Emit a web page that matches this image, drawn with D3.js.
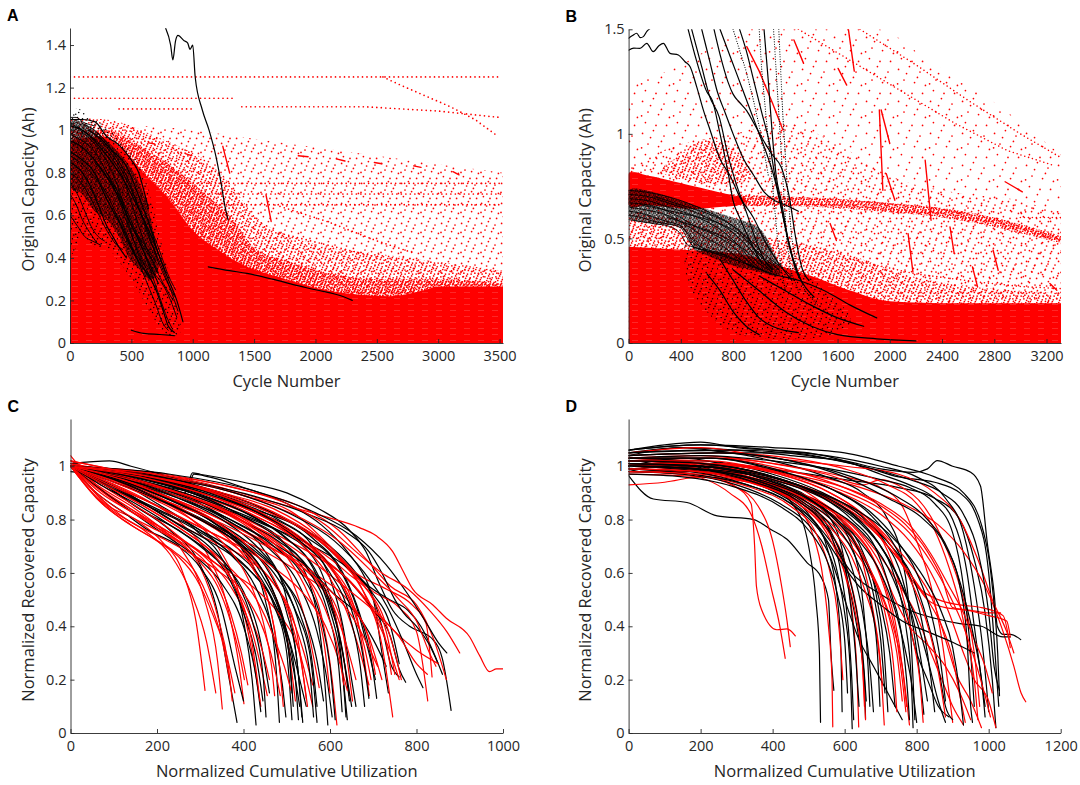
<!DOCTYPE html>
<html>
<head>
<meta charset="utf-8">
<script src="https://cdn.jsdelivr.net/npm/d3@7"></script>
<style>
  body { margin: 0; background: #fff; }
  svg { display: block; font-family: "Open Sans", "Noto Sans", sans-serif; }
</style>
</head>
<body>
<svg id="fig" width="1080" height="785"></svg>
<script>
// ---------- tick values ----------
const aXTicks = [0, 500, 1000, 1500, 2000, 2500, 3000, 3500];
const aYTicks = [0, 0.2, 0.4, 0.6, 0.8, 1, 1.2, 1.4];
const bXTicks = [0, 400, 800, 1200, 1600, 2000, 2400, 2800, 3200];
const bYTicks = [0, 0.5, 1, 1.5];
const cXTicks = [0, 200, 400, 600, 800, 1000];
const dXTicks = [0, 200, 400, 600, 800, 1000, 1200];
const cdYTicks = [0, 0.2, 0.4, 0.6, 0.8, 1];

// ---------- panel A (cycle number, capacity in Ah) ----------
// outlines of the red point cloud
const aSparseTop = [[0,1.0],[600,1.02],[1000,1.0],[1500,0.96],[2000,0.92],[2500,0.88],[3000,0.84],[3528,0.8]];
const aMidTop = [[0,1.06],[300,1.05],[500,1.02],[700,0.97],[900,0.92],[1100,0.86],[1300,0.75],[1500,0.6],[1800,0.5],[2100,0.45],[2500,0.42],[3000,0.38],[3528,0.34]];
const aHeavyTop = [[0,1.0],[300,1.0],[500,0.95],[700,0.88],[900,0.8],[1100,0.7],[1300,0.6],[1500,0.45],[1800,0.38],[2100,0.33],[2500,0.3],[3000,0.3],[3528,0.28]];
const aDenseTop = [[0,0.95],[250,0.97],[450,0.9],[600,0.8],[800,0.68],[1000,0.53],[1200,0.44],[1400,0.37],[1700,0.31],[2000,0.26],[2300,0.23],[2600,0.22],[2900,0.25],[3000,0.265],[3528,0.265]];
const aDotLines = [
  [[0,1.25],[3490,1.25]],
  [[2550,1.25],[2700,1.21],[2900,1.16],[3100,1.11],[3300,1.05],[3490,0.97]],
  [[0,1.15],[1330,1.15]],
  [[400,1.1],[990,1.1]],
  [[1400,1.11],[2000,1.11],[2400,1.11],[2700,1.1],[3000,1.09],[3500,1.06]],
  [[820,0.75],[3520,0.75]],
  [[1050,0.7],[3520,0.7]],
  [[1220,0.65],[3500,0.65]],
  [[1711,0.642],[2100,0.57],[2500,0.48],[2795,0.424]],
  [[1711,0.516],[2100,0.46],[2526,0.4]]
];
const aRedSegs = [
  [[1245,0.924],[1301,0.798]],
  [[1597,0.696],[1639,0.571]],
  [[640,0.94],[690,0.935]],
  [[940,0.89],[990,0.88]],
  [[1860,0.88],[1940,0.875]],
  [[2170,0.865],[2240,0.855]],
  [[2480,0.848],[2540,0.842]],
  [[2800,0.832],[2860,0.825]],
  [[3120,0.805],[3170,0.79]]
];
const aBlackSparse = [[0,1.06],[190,1.05],[326,1.0],[462,0.92],[570,0.83],[650,0.7],[733,0.5],[815,0.3],[880,0.15],[900,0.05],[800,0.035],[700,0.1],[600,0.2],[500,0.3],[400,0.38],[300,0.45],[200,0.45],[100,0.5],[0,0.45]];
const aBlackDense = [[0,1.03],[150,1.02],[300,0.95],[420,0.88],[520,0.8],[600,0.7],[660,0.58],[700,0.45],[720,0.35],[650,0.3],[560,0.35],[480,0.4],[400,0.5],[300,0.58],[200,0.62],[100,0.7],[0,0.75]];
const aBlackLines = [
  [[781,1.477],[820,1.4],[838,1.33],[860,1.42],[880,1.445],[930,1.42],[958,1.41],[978,1.38],[1000,1.4],[1020,1.25],[1077,1.097],[1133,1.0],[1189,0.877],[1231,0.751],[1260,0.65],[1288,0.578]],
  [[0,1.05],[100,1.05],[200,1.04],[300,0.97],[400,0.93],[500,0.86],[560,0.8],[600,0.72],[640,0.63]],
  [[1126,0.358],[1300,0.34],[1442,0.327],[1650,0.3],[1836,0.272],[2000,0.25],[2230,0.217],[2300,0.2]],
  [[500,0.06],[600,0.045],[733,0.04],[850,0.035]],
  [[0,1.02],[100,1.0],[200,0.95],[300,0.88],[400,0.8],[500,0.7],[600,0.58],[700,0.45],[780,0.33]],
  [[0,0.95],[100,0.92],[200,0.86],[300,0.78],[400,0.68],[480,0.58],[560,0.48],[640,0.38],[720,0.28]],
  [[0,0.9],[100,0.86],[200,0.8],[280,0.7],[350,0.62],[420,0.55],[500,0.45],[580,0.36]],
  [[0,0.85],[100,0.8],[180,0.72],[250,0.62],[300,0.55],[350,0.5],[400,0.45],[460,0.4]],
  [[150,1.0],[250,0.96],[350,0.9],[450,0.84],[520,0.75],[580,0.66],[650,0.55],[720,0.42],[800,0.3],[870,0.2],[920,0.1]],
  [[600,0.35],[700,0.25],[760,0.15],[800,0.08],[850,0.05]]
];
const aBlackThin = [
  [[0,1.04],[80,1.0],[160,0.96],[250,0.9],[330,0.82],[400,0.72],[460,0.6],[520,0.48],[580,0.38],[650,0.3]],
  [[0,0.98],[100,0.95],[200,0.9],[280,0.82],[350,0.74],[420,0.64],[480,0.54],[550,0.44],[620,0.35],[700,0.25]],
  [[0,0.8],[80,0.76],[150,0.7],[220,0.62],[280,0.55],[330,0.5],[380,0.46],[430,0.44]],
  [[0,0.75],[60,0.7],[120,0.62],[170,0.55],[230,0.5],[280,0.48]],
  [[0,0.7],[50,0.65],[100,0.58],[160,0.52],[220,0.47]],
  [[50,1.02],[150,0.98],[250,0.93],[350,0.86],[430,0.78],[500,0.66],[560,0.55],[620,0.45],[680,0.37],[760,0.28],[840,0.2]],
  [[100,1.03],[200,1.0],[300,0.94],[380,0.87],[450,0.8],[520,0.7],[580,0.6],[640,0.5],[700,0.42],[760,0.34],[820,0.25],[880,0.15]],
  [[0,0.88],[100,0.84],[200,0.78],[300,0.7],[380,0.6],[450,0.5],[520,0.42],[600,0.35],[680,0.3]],
  [[200,0.85],[300,0.78],[400,0.7],[480,0.6],[540,0.52],[600,0.45],[660,0.4],[720,0.33]],
  [[250,0.95],[350,0.88],[450,0.78],[530,0.68],[600,0.58],[660,0.48],[720,0.38],[780,0.3],[850,0.22]],
  [[300,0.8],[380,0.72],[450,0.62],[500,0.55],[560,0.5],[620,0.45],[700,0.38]],
  [[0,0.6],[60,0.55],[120,0.5],[180,0.48],[250,0.46]],
  [[400,0.6],[470,0.5],[530,0.42],[600,0.38],[680,0.33],[750,0.28],[820,0.2],[870,0.12]],
  [[500,0.45],[580,0.35],[650,0.25],[700,0.18],[750,0.1],[800,0.06]],
  [[550,0.5],[620,0.4],[680,0.3],[740,0.2],[790,0.12],[830,0.07]],
  [[650,0.55],[700,0.48],[750,0.4],[800,0.32],[860,0.25]],
  [[0,1.06],[50,1.06],[100,1.04],[200,1.02]]
];

// ---------- panel B ----------
const bThinTop = [[0,1.25],[300,1.3],[600,1.4],[900,1.5],[1900,1.5],[2300,1.35],[2800,1.15],[3311,0.9]];
const bSparseTop = [[0,0.85],[400,0.95],[800,1.0],[1200,1.05],[1600,0.95],[2000,0.8],[2500,0.72],[3000,0.68],[3311,0.62]];
const bMidTop = [[0,0.62],[500,0.58],[900,0.52],[1300,0.48],[1700,0.42],[2100,0.33],[2500,0.28],[3000,0.25],[3311,0.24]];
const bDenseTop = [[0,0.46],[300,0.45],[600,0.44],[900,0.42],[1100,0.38],[1400,0.32],[1700,0.25],[2000,0.2],[2500,0.19],[3311,0.19]];
const bRedBand = [[0,0.81],[150,0.8],[300,0.78],[500,0.75],[700,0.72],[850,0.7],[900,0.68],[850,0.66],[700,0.65],[500,0.64],[300,0.65],[150,0.66],[0,0.66]];
const bLongBand = [[700,0.71],[1200,0.7],[1600,0.69],[2000,0.67],[2400,0.645],[2800,0.6],[3100,0.55],[3311,0.51],[3311,0.48],[3100,0.51],[2800,0.555],[2400,0.6],[2000,0.625],[1600,0.645],[1200,0.655],[700,0.66]];
const bCloud = [[250,0.82],[400,0.9],[550,0.97],[700,0.96],[850,0.9],[950,0.8],[800,0.76],[500,0.77]];
const bDotLines = [
  [[700,0.69],[1200,0.69],[1600,0.685],[2000,0.665],[2400,0.64],[2800,0.59],[3100,0.54],[3311,0.5]],
  [[900,0.67],[1600,0.66],[2000,0.64],[2400,0.62],[2800,0.58],[3100,0.53],[3311,0.49]],
  [[1772,1.5],[2200,1.33],[2600,1.16],[3000,1.0],[3300,0.89]],
  [[1300,1.5],[1700,1.35],[2100,1.2],[2500,1.05],[2900,0.92],[3250,0.85]],
  [[1700,0.4],[2200,0.33],[2700,0.29],[3000,0.27],[3311,0.26]],
  [[3000,0.6],[3311,0.6]]
];
const bRedSegs = [
  [[1266,1.449],[1340,1.337]],
  [[1683,1.5],[1728,1.3]],
  [[1604,1.313],[1670,1.233]],
  [[1934,1.114],[2000,0.954]],
  [[1920,1.114],[1947,0.73]],
  [[1973,0.81],[2039,0.683]],
  [[2271,0.874],[2316,0.587]],
  [[2140,0.523],[2177,0.34]],
  [[2461,0.555],[2493,0.428]],
  [[2633,0.364],[2672,0.268]],
  [[2791,0.444],[2830,0.348]],
  [[1543,0.571],[1591,0.49]],
  [[3226,0.284],[3279,0.252]],
  [[2883,0.771],[3015,0.723]],
  [[905,1.417],[1000,1.3],[1100,1.15],[1182,1.018]]
];
const bBlackMass = [[0,0.73],[200,0.72],[400,0.68],[600,0.64],[800,0.6],[1000,0.55],[1100,0.45],[1150,0.38],[1150,0.32],[1000,0.34],[800,0.37],[600,0.42],[500,0.45],[400,0.55],[200,0.57],[0,0.6]];
const bBlackSparse = [[450,0.5],[700,0.45],[1000,0.4],[1300,0.35],[1600,0.2],[1700,0.1],[1500,0.03],[1100,0.02],[800,0.05],[600,0.15],[450,0.3]];
const bBlackLines = [
  [[0,1.457],[30,1.47],[62,1.481],[90,1.46],[113,1.465],[140,1.49],[151,1.497],[179,1.51]],
  [[0,1.4],[40,1.41],[87,1.409],[139,1.433],[189,1.393],[230,1.42],[266,1.433],[317,1.385],[381,1.377],[432,1.345],[470,1.322],[521,1.226],[572,1.115],[623,1.02],[700,0.88],[777,0.8],[850,0.7],[955,0.6],[1050,0.48],[1150,0.38],[1250,0.3]],
  [[456,1.5],[520,1.35],[600,1.2],[641,1.16],[700,1.0],[760,0.82],[800,0.68],[850,0.6],[905,0.52],[960,0.45],[1020,0.38]],
  [[483,1.5],[560,1.32],[620,1.18],[694,1.08],[760,0.9],[830,0.75],[905,0.62],[970,0.5],[1036,0.4],[1100,0.35]],
  [[654,1.5],[700,1.38],[760,1.25],[800,1.19],[850,1.15],[905,1.11],[960,1.05],[1050,0.95],[1100,0.9],[1169,0.84],[1230,0.7],[1280,0.5],[1327,0.36],[1380,0.3]],
  [[700,1.5],[760,1.4],[820,1.3],[880,1.2],[940,1.1],[1000,1.0],[1060,0.9],[1120,0.78],[1170,0.64],[1220,0.5],[1270,0.38],[1320,0.3]],
  [[850,1.5],[900,1.4],[960,1.25],[1020,1.1],[1080,0.95],[1120,0.8],[1160,0.68],[1200,0.55],[1240,0.44],[1290,0.35]],
  [[1037,1.5],[1070,1.25],[1100,1.0],[1130,0.8],[1169,0.68],[1220,0.5],[1274,0.36],[1340,0.28],[1420,0.22]],
  [[560,1.5],[620,1.35],[680,1.2],[740,1.1],[800,1.0],[880,0.88],[960,0.8],[1040,0.72],[1120,0.68],[1200,0.66],[1300,0.63]],
  [[900,0.38],[1100,0.33],[1300,0.3],[1500,0.25],[1700,0.18],[1900,0.12]],
  [[800,0.35],[1000,0.25],[1200,0.15],[1400,0.08],[1600,0.04],[1900,0.02],[2200,0.01]],
  [[700,0.4],[800,0.3],[900,0.2],[1000,0.12],[1100,0.08],[1300,0.05]],
  [[1000,0.32],[1200,0.25],[1400,0.18],[1600,0.12],[1800,0.08]],
  [[600,0.33],[700,0.25],[800,0.15],[900,0.08],[1000,0.04]]
];
const bBlackBand = [
  [[0,0.73],[150,0.72],[300,0.7],[450,0.67],[600,0.63],[750,0.58],[900,0.5],[1000,0.42],[1100,0.36]],
  [[0,0.71],[150,0.7],[300,0.67],[450,0.64],[600,0.6],[750,0.55],[900,0.47],[1000,0.4],[1080,0.35]],
  [[0,0.69],[150,0.68],[300,0.65],[450,0.62],[600,0.58],[750,0.52],[880,0.44],[960,0.38],[1050,0.34]],
  [[0,0.67],[150,0.66],[300,0.63],[400,0.6],[500,0.56],[650,0.52],[800,0.46],[900,0.4],[1000,0.35]],
  [[0,0.65],[100,0.64],[250,0.62],[400,0.58],[500,0.54],[600,0.5],[750,0.45],[850,0.4],[950,0.36]],
  [[0,0.63],[100,0.62],[200,0.6],[300,0.58],[400,0.56],[480,0.5],[550,0.46],[700,0.43],[850,0.39]],
  [[0,0.61],[100,0.6],[200,0.58],[300,0.57],[400,0.55],[450,0.5],[500,0.46],[600,0.44],[750,0.42]],
  [[0,0.59],[100,0.58],[200,0.57],[300,0.56],[400,0.52],[450,0.47],[550,0.45],[700,0.42],[900,0.38]],
  [[100,0.66],[250,0.64],[400,0.62],[550,0.6],[700,0.57],[850,0.52],[950,0.46],[1050,0.4],[1150,0.35]],
  [[200,0.7],[400,0.66],[600,0.62],[800,0.56],[950,0.48],[1050,0.42],[1150,0.37],[1250,0.32]],
  [[300,0.6],[450,0.57],[600,0.54],[750,0.5],[900,0.44],[1000,0.38],[1100,0.34]]
];
const bBlackDotted = [
  [[1000,1.5],[1020,1.3],[1050,1.1],[1080,0.9],[1110,0.7],[1140,0.5],[1170,0.35],[1200,0.25]],
  [[1110,1.5],[1130,1.3],[1150,1.1],[1170,0.9],[1190,0.7],[1210,0.5],[1240,0.35],[1300,0.25]],
  [[1150,1.5],[1165,1.3],[1180,1.1],[1200,0.9],[1220,0.7],[1250,0.5],[1290,0.35],[1350,0.25],[1450,0.18]],
  [[800,1.5],[850,1.4],[900,1.3],[960,1.15],[1020,0.98],[1070,0.8]]
];

// ---------- panel C (normalized cumulative utilization vs recovered capacity) ----------
const cRed = [
  [[0,1],[40,.93],[80,.86],[150,.8],[210,.72],[260,.6],[290,.42],[311,.16]],
  [[0,1],[50,.9],[100,.83],[170,.76],[230,.67],[280,.52],[315,.34],[336,.15]],
  [[0,1.04],[60,.93],[130,.85],[200,.77],[260,.68],[310,.5],[340,.27],[351,.09]],
  [[0,1],[70,.92],[150,.84],[230,.74],[300,.62],[340,.44],[365,.25],[374,.12]],
  [[0,1],[90,.94],[180,.87],[260,.78],[320,.66],[365,.46],[390,.25],[401,.11]],
  [[0,1.02],[100,.95],[200,.88],[280,.8],[340,.7],[390,.52],[420,.3],[440,.1]],
  [[0,1],[80,.9],[160,.82],[240,.74],[310,.66],[370,.55],[420,.38],[455,.14]],
  [[0,1],[100,.96],[200,.9],[300,.82],[380,.73],[430,.6],[470,.4],[490,.16]],
  [[0,1],[120,.93],[220,.86],[320,.78],[400,.69],[460,.56],[500,.36],[520,.12]],
  [[0,1],[100,.92],[200,.83],[300,.74],[400,.66],[470,.56],[520,.4],[545,.13]],
  [[0,1],[120,.96],[240,.9],[350,.83],[440,.73],[510,.58],[550,.38],[575,.17]],
  [[0,1],[100,.97],[220,.92],[330,.86],[430,.77],[520,.64],[580,.44],[605,.2],[616,.03]],
  [[0,1],[150,.95],[260,.89],[370,.82],[470,.72],[560,.59],[615,.42],[644,.14]],
  [[0,1],[130,.94],[250,.87],[360,.79],[460,.7],[550,.6],[620,.45],[652,.12]],
  [[0,1.01],[160,.96],[300,.9],[420,.83],[520,.74],[600,.63],[660,.45],[691,.14]],
  [[0,1],[150,.97],[300,.92],[420,.86],[520,.78],[610,.67],[680,.52],[720,.33],[745,.06]],
  [[0,1],[200,.96],[350,.9],[470,.84],[570,.74],[650,.6],[700,.53],[760,.47],[800,.38],[826,.12]],
  [[0,1],[200,.97],[400,.89],[520,.82],[600,.7],[660,.6],[730,.54],[790,.48],[822,.41],[836,.21]],
  [[0,1],[220,.97],[400,.91],[530,.85],[620,.76],[690,.64],[740,.55],[800,.48],[840,.35],[869,.2]],
  [[0,1],[150,.98],[300,.94],[436,.88],[591,.81],[668,.77],[706,.74],[745,.68],[768,.61],[791,.54],[838,.48],[869,.43],[923,.36],[946,.29],[969,.23],[985,.24],[1000,.24]],
  [[0,1],[80,.85],[140,.78],[200,.72],[250,.66],[290,.58],[330,.44],[360,.3],[380,.15]],
  [[0,1],[60,.88],[120,.8],[180,.74],[240,.68],[290,.6],[320,.5],[350,.35],[368,.2]],
  [[0,1],[100,.9],[200,.8],[280,.7],[350,.62],[420,.55],[480,.45],[530,.3],[560,.1]],
  [[0,1],[100,.95],[230,.86],[350,.76],[450,.68],[530,.6],[600,.5],[640,.32],[660,.2]],
  [[0,1],[150,.93],[280,.85],[400,.76],[500,.67],[580,.58],[640,.5],[690,.36],[720,.2]],
  [[0,1],[120,.95],[250,.9],[380,.82],[480,.74],[560,.67],[640,.58],[700,.47],[750,.38],[800,.31],[850,.26]],
  [[0,1],[200,.94],[350,.86],[470,.78],[560,.7],[640,.6],[700,.5],[730,.38],[750,.22]],
  [[0,1],[180,.96],[330,.9],[460,.8],[540,.7],[600,.58],[640,.45],[670,.3],[690,.18]],
  [[0,1],[90,.93],[190,.86],[290,.78],[380,.7],[450,.6],[500,.48],[540,.3],[560,.18]],
  [[0,1],[250,.95],[420,.88],[540,.8],[620,.72],[700,.6],[760,.5],[800,.42],[830,.3],[845,.25]],
  [[0,1],[70,.88],[130,.8],[200,.74],[270,.68],[330,.62],[380,.55],[420,.42],[445,.3],[460,.2]],
  [[0,1.02],[120,.98],[250,.93],[380,.85],[490,.76],[580,.66],[650,.56],[700,.45],[740,.3],[760,.2]],
  [[0,1],[60,.9],[130,.82],[200,.76],[270,.7],[330,.6],[370,.45],[395,.3],[410,.18]],
  [[0,1],[110,.95],[210,.88],[300,.8],[370,.72],[420,.62],[460,.48],[480,.3],[492,.1]],
  [[0,1.01],[130,.96],[250,.9],[350,.84],[430,.76],[500,.66],[550,.52],[585,.35],[600,.15]],
  [[0,1],[100,.93],[200,.85],[300,.77],[390,.7],[470,.62],[540,.52],[590,.4],[625,.25],[640,.16]],
  [[0,1],[170,.96],[320,.91],[440,.84],[540,.76],[620,.66],[680,.55],[720,.45],[750,.3],[765,.2]],
  [[0,1],[140,.94],[280,.87],[390,.8],[490,.72],[570,.63],[640,.54],[700,.46],[760,.36],[800,.26],[825,.22]],
  [[0,1],[200,.97],[380,.92],[500,.86],[590,.78],[660,.68],[720,.6],[780,.54],[830,.46],[870,.38],[900,.3]],
  [[0,1],[90,.92],[170,.85],[250,.77],[320,.69],[380,.6],[430,.5],[470,.36],[500,.22],[510,.16]],
  [[0,1.02],[150,.97],[290,.92],[410,.85],[500,.77],[570,.68],[620,.58],[660,.46],[690,.35],[705,.22]],
  [[0,1],[70,.9],[140,.83],[220,.76],[300,.68],[360,.6],[410,.5],[450,.37],[475,.22],[485,.14]],
  [[0,1],[110,.94],[220,.87],[330,.8],[430,.72],[520,.64],[590,.55],[650,.44],[690,.32],[710,.25]],
  [[0,1],[60,.92],[120,.85],[190,.78],[250,.72],[300,.64],[340,.55],[370,.42],[390,.3],[402,.2]],
  [[0,1],[120,.95],[230,.88],[330,.8],[410,.7],[470,.58],[510,.42],[535,.25],[548,.1]],
  [[0,1],[140,.95],[270,.89],[380,.81],[470,.71],[540,.6],[590,.46],[620,.3],[632,.18]],
  [[0,1],[100,.94],[200,.87],[290,.79],[360,.7],[410,.58],[445,.42],[465,.25],[472,.14]],
  [[0,1],[160,.96],[300,.9],[420,.83],[520,.74],[600,.62],[650,.48],[680,.32],[695,.2]],
  [[0,1],[90,.92],[180,.84],[260,.76],[330,.67],[380,.55],[415,.38],[432,.2],[438,.12]],
  [[0,1],[190,.96],[350,.9],[480,.82],[580,.72],[650,.6],[700,.46],[730,.34],[742,.22]]
];
const cBlack = [
  [[0,1],[60,.95],[140,.86],[230,.76],[300,.63],[340,.45],[365,.22],[385,.04]],
  [[0,1],[100,.95],[200,.86],[290,.76],[360,.62],[400,.42],[420,.2],[429,.03]],
  [[0,1],[100,.96],[220,.89],[320,.8],[400,.68],[450,.5],[475,.25],[483,.04]],
  [[0,1],[130,.96],[250,.9],[360,.8],[450,.68],[500,.5],[525,.25],[537,.04]],
  [[0,1],[150,.96],[280,.9],[400,.81],[500,.7],[560,.52],[585,.25],[595,.03]],
  [[0,1],[160,.97],[300,.92],[420,.84],[520,.73],[590,.56],[625,.3],[637,.06]],
  [[0,1],[60,.9],[120,.83],[180,.76],[250,.7],[300,.62],[350,.46],[380,.25],[400,.12]],
  [[0,1],[80,.93],[160,.84],[260,.75],[340,.65],[400,.53],[440,.34],[460,.15]],
  [[0,1],[100,.95],[200,.88],[300,.8],[380,.72],[440,.6],[490,.42],[520,.2],[530,.1]],
  [[0,1],[100,.97],[200,.93],[270,.91],[285,.97],[320,.96],[400,.92],[500,.86],[580,.78],[640,.68],[690,.55],[720,.4],[740,.26],[760,.21]],
  [[0,.98],[150,.95],[265,.9],[282,.975],[300,.97],[400,.94],[500,.9],[575,.84],[645,.76],[683,.68],[714,.56],[745,.46],[784,.4],[838,.35],[861,.27],[880,.085]],
  [[0,1],[150,.97],[300,.9],[420,.84],[520,.78],[600,.7],[660,.6],[700,.5],[720,.3],[735,.15]],
  [[0,1],[150,.96],[300,.9],[430,.83],[540,.74],[620,.62],[660,.48],[690,.3],[705,.2]],
  [[0,1],[120,.95],[250,.88],[370,.8],[470,.71],[550,.62],[610,.52],[660,.45],[700,.35],[730,.25]],
  [[0,1],[200,.95],[350,.89],[470,.82],[560,.74],[630,.64],[690,.55],[737,.5],[780,.46],[810,.4],[840,.3],[860,.22]],
  [[0,1],[100,.92],[200,.84],[300,.76],[380,.68],[440,.58],[480,.45],[505,.3],[515,.1]],
  [[0,1],[120,.94],[240,.87],[340,.79],[420,.7],[480,.6],[530,.45],[560,.25],[570,.1]],
  [[0,1],[150,.95],[280,.88],[390,.8],[480,.72],[550,.62],[600,.48],[630,.3],[645,.12]],
  [[0,1],[80,.9],[150,.82],[220,.74],[290,.66],[350,.56],[400,.4],[430,.2],[440,.08]],
  [[0,1],[200,.93],[350,.85],[480,.76],[580,.66],[650,.56],[700,.46],[740,.36],[760,.24],[775,.19]],
  [[0,1.01],[90,1.02],[140,1],[250,.95],[380,.87],[480,.8],[560,.7],[600,.58],[630,.4],[650,.2],[660,.1]],
  [[0,1],[130,.9],[230,.8],[320,.72],[400,.63],[460,.52],[500,.38],[530,.2],[545,.1]],
  [[0,1],[170,.94],[320,.86],[450,.78],[560,.7],[640,.62],[700,.52],[740,.4],[760,.26]],
  [[0,1],[250,.95],[420,.89],[550,.82],[640,.75],[690,.68],[720,.6],[750,.5],[770,.45],[800,.4],[830,.33],[850,.26]],
  [[0,1],[90,.92],[180,.85],[270,.78],[350,.7],[420,.6],[470,.48],[500,.3],[512,.05]],
  [[0,1],[140,.95],[270,.88],[380,.79],[470,.7],[540,.58],[580,.42],[600,.25],[612,.05]],
  [[0,1],[110,.95],[220,.88],[320,.8],[400,.7],[460,.56],[500,.38],[520,.2],[527,.05]],
  [[0,1],[130,.95],[260,.88],[370,.79],[460,.69],[530,.55],[570,.38],[595,.18],[605,.06]],
  [[0,1],[90,.93],[190,.86],[290,.77],[370,.67],[430,.54],[470,.36],[490,.18],[498,.06]],
  [[0,1],[150,.96],[290,.9],[410,.82],[500,.73],[570,.6],[610,.44],[635,.25],[650,.1]],
  [[0,1],[180,.97],[330,.91],[460,.83],[560,.73],[630,.6],[670,.44],[695,.28],[708,.13]],
  [[0,1],[120,.94],[230,.86],[330,.78],[420,.69],[490,.58],[540,.44],[570,.27],[585,.12]],
  [[0,1],[70,.93],[150,.86],[230,.78],[300,.7],[360,.6],[400,.45],[430,.28],[445,.12]],
  [[0,1],[200,.96],[380,.9],[510,.82],[610,.72],[680,.6],[730,.48],[770,.34],[800,.22],[815,.17]],
  [[0,1],[160,.96],[310,.9],[440,.82],[540,.72],[610,.6],[650,.46],[675,.3],[690,.13]],
  [[0,1],[100,.94],[210,.87],[310,.79],[400,.7],[470,.6],[520,.46],[555,.28],[570,.04]],
  [[0,1],[140,.96],[280,.9],[400,.83],[490,.74],[560,.62],[600,.46],[625,.28],[640,.05]],
  [[0,1],[230,.97],[420,.91],[560,.83],[660,.74],[730,.63],[780,.52],[820,.42],[850,.34],[870,.3]],
  [[0,1],[110,.95],[220,.88],[320,.8],[400,.71],[460,.6],[500,.45],[525,.25],[535,.06]],
  [[0,1],[130,.95],[250,.88],[350,.8],[430,.7],[490,.57],[530,.4],[555,.2],[562,.06]],
  [[0,1],[80,.93],[170,.86],[250,.78],[320,.7],[380,.58],[420,.42],[445,.22],[452,.06]],
  [[0,1],[170,.96],[320,.9],[440,.82],[530,.72],[600,.6],[645,.44],[670,.25],[680,.1]],
  [[0,1],[150,.96],[280,.9],[390,.82],[480,.73],[550,.61],[595,.45],[620,.25],[628,.08]],
  [[0,1],[100,.95],[200,.88],[300,.8],[380,.72],[440,.62],[480,.48],[505,.3],[512,.15]]
];

// ---------- panel D ----------
const dRed = [
  [[0,.93],[100,.94],[200,.96],[300,.92],[340,.86],[350,.7],[355,.55],[370,.46],[412,.387],[440,.39],[463,.364]],
  [[0,.98],[150,.97],[280,.9],[340,.82],[370,.7],[395,.55],[420,.4],[435,.28]],
  [[0,1],[150,.99],[290,.93],[360,.85],[400,.72],[425,.55],[440,.42],[449,.324]],
  [[0,1.02],[200,1],[350,.95],[450,.87],[510,.75],[540,.58],[555,.4],[565,.2],[567,.023]],
  [[0,1.01],[200,.99],[380,.93],[490,.85],[560,.74],[600,.6],[625,.4],[635,.2],[639,.023]],
  [[0,1.03],[200,1.01],[400,.96],[520,.88],[600,.78],[650,.64],[680,.45],[700,.25],[710,.03]],
  [[0,1],[200,.98],[380,.93],[500,.86],[580,.78],[640,.68],[690,.56],[730,.42],[760,.25],[780,.03]],
  [[0,1.02],[250,1.03],[450,1],[600,.96],[700,.92],[760,.85],[800,.72],[840,.55],[870,.35],[890,.15],[900,.04]],
  [[0,1],[200,1],[400,.96],[560,.88],[660,.8],[730,.7],[780,.6],[830,.5],[880,.47],[950,.46],[1000,.45],[1033,.45]],
  [[0,1.05],[200,1.07],[400,1.03],[600,1],[750,.97],[850,.9],[920,.8],[970,.65],[1010,.5],[1050,.38],[1070,.3]],
  [[0,1],[250,1.01],[450,.98],[620,.93],[760,.86],[860,.78],[930,.68],[990,.55],[1040,.38],[1070,.25],[1090,.15],[1103,.117]],
  [[0,.98],[200,.98],[400,.93],[540,.86],[630,.77],[700,.66],[750,.56],[800,.44],[840,.3],[870,.2],[900,.1],[930,.03]],
  [[0,1.01],[220,1],[420,.95],[570,.88],[670,.8],[740,.7],[800,.6],[850,.48],[880,.35],[910,.22],[950,.12],[980,.02]],
  [[0,1.03],[200,1.04],[400,1.01],[550,.97],[650,.93],[700,.95],[760,.92],[820,.85],[880,.7],[930,.5],[960,.3],[975,.1]],
  [[0,1],[200,.98],[360,.93],[470,.86],[540,.78],[590,.68],[620,.55],[640,.4],[650,.25],[655,.1]],
  [[0,.97],[200,.96],[400,.92],[530,.85],[620,.76],[680,.65],[720,.5],[745,.35],[760,.2],[770,.08]],
  [[0,1.02],[230,1.01],[430,.97],[590,.9],[700,.82],[780,.72],[840,.6],[890,.45],[930,.3],[960,.2],[1000,.12],[1020,.02]],
  [[0,1],[200,.99],[400,.95],[560,.87],[670,.77],[750,.65],[800,.55],[860,.5],[920,.48],[980,.47],[1040,.44],[1060,.32]],
  [[0,1.04],[250,1.05],[450,1.03],[600,.99],[720,.93],[800,.86],[850,.76],[890,.62],[920,.48],[940,.35],[960,.2],[970,.05]],
  [[0,.99],[180,.97],[340,.92],[450,.85],[520,.75],[560,.6],[580,.45],[590,.3],[595,.2]],
  [[0,1],[180,.99],[350,.94],[470,.86],[550,.75],[600,.6],[630,.45],[650,.25],[658,.05]],
  [[0,1.02],[220,1.02],[420,.97],[560,.9],[660,.8],[720,.68],[760,.52],[790,.35],[810,.18],[818,.04]],
  [[0,.99],[200,.98],[400,.93],[540,.85],[640,.75],[700,.63],[740,.5],[780,.4],[830,.33],[880,.25],[920,.15],[950,.05]],
  [[0,1.01],[250,1.01],[450,.97],[600,.92],[700,.86],[780,.78],[840,.67],[890,.55],[930,.45],[960,.35],[990,.25],[1010,.15]],
  [[0,.98],[200,.97],[380,.92],[500,.85],[580,.76],[640,.66],[690,.55],[720,.45],[745,.3],[760,.12]],
  [[0,1.03],[230,1.03],[430,.99],[580,.93],[690,.86],[770,.78],[830,.68],[870,.58],[900,.47],[940,.46],[1000,.44],[1050,.42],[1060,.36]],
  [[0,1],[200,.99],[390,.94],[520,.87],[610,.78],[670,.68],[710,.56],[740,.42],[760,.25],[772,.1]],
  [[0,1],[210,.99],[400,.95],[550,.88],[650,.8],[720,.7],[780,.6],[830,.5],[870,.4],[900,.28],[920,.14],[935,.04]],
  [[0,1],[200,.99],[380,.94],[500,.87],[590,.78],[650,.67],[690,.55],[720,.4],[738,.22],[745,.08]],
  [[0,1.02],[220,1.01],[420,.97],[560,.9],[660,.81],[730,.7],[780,.58],[820,.45],[850,.3],[870,.15],[880,.06]],
  [[0,.99],[190,.98],[360,.93],[480,.86],[560,.77],[620,.66],[660,.52],[690,.36],[705,.18]],
  [[0,1.01],[240,1.01],[440,.97],[590,.91],[700,.84],[780,.75],[840,.64],[890,.52],[930,.4],[960,.28],[990,.14],[1005,.06]]
];
const dBlack = [
  [[0,.965],[69,.877],[162,.864],[246,.814],[347,.8],[394,.764],[440,.726],[496,.638],[533,.588],[555,.5],[562,.3],[570,.16]],
  [[0,1.05],[150,1.07],[300,1.06],[450,1.04],[600,1.02],[700,.99],[792,.977],[830,.99],[857,1.021],[900,1],[950,.977],[977,.927],[996,.714],[1015,.525],[1024,.4],[1040,.37],[1060,.37],[1089,.35]],
  [[0,1.06],[100,1.08],[200,1.09],[300,1.07],[400,1.06],[500,1.05],[600,1.02],[700,.97],[780,.93],[850,.88],[900,.8],[940,.6],[960,.4],[980,.2],[990,.1]],
  [[0,1.04],[150,1.07],[300,1.05],[450,1.05],[550,1.03],[650,1],[750,.96],[850,.94],[920,.9],[970,.8],[1000,.6],[1015,.35],[1028,.1]],
  [[0,1],[150,1.03],[300,1],[450,.98],[600,.95],[750,.92],[850,.88],[920,.8],[960,.65],[990,.45],[1010,.2],[1020,.02]],
  [[0,.98],[100,1],[250,.97],[400,.92],[500,.86],[560,.75],[590,.6],[610,.4],[620,.2],[625,.05]],
  [[0,1.02],[120,1.02],[250,.98],[380,.93],[460,.85],[500,.7],[520,.5],[530,.3],[533,.04]],
  [[0,1],[150,1],[300,.96],[420,.9],[500,.82],[550,.7],[580,.5],[590,.3],[593,.08]],
  [[0,1.03],[150,1.02],[300,.98],[430,.93],[520,.86],[580,.75],[610,.55],[630,.3],[640,.1]],
  [[0,1],[200,.99],[350,.95],[470,.9],[560,.82],[620,.7],[650,.5],[665,.25],[670,.1]],
  [[0,1.01],[200,1],[380,.95],[500,.88],[590,.8],[650,.68],[690,.5],[710,.3],[720,.08]],
  [[0,1],[180,.99],[350,.94],[480,.86],[560,.76],[600,.62],[620,.5],[640,.35],[655,.2],[658,.054]],
  [[0,1.05],[200,1.06],[400,1.02],[550,.96],[650,.9],[720,.8],[760,.65],[780,.45],[790,.2],[795,.05]],
  [[0,1.02],[200,1.02],[400,.97],[540,.9],[640,.82],[710,.72],[760,.58],[790,.4],[810,.2],[820,.07]],
  [[0,1.03],[200,1.04],[400,1.02],[600,.98],[700,.95],[780,.92],[850,.86],[900,.75],[930,.55],[950,.3],[960,.1]],
  [[0,1.06],[200,1.08],[400,1.06],[550,1.04],[700,1],[800,.96],[880,.88],[930,.75],[960,.55],[985,.3],[1000,.08]],
  [[0,1],[200,.98],[380,.92],[480,.84],[560,.72],[620,.6],[700,.52],[780,.46],[850,.43],[920,.41],[980,.4],[1040,.36],[1060,.36]],
  [[0,.98],[150,.97],[300,.93],[420,.86],[500,.78],[560,.66],[600,.5],[640,.35],[680,.25],[720,.15],[760,.05]],
  [[0,1],[200,.99],[400,.93],[550,.85],[650,.75],[720,.62],[770,.45],[800,.3],[830,.2],[860,.1],[890,.06]],
  [[0,1.04],[250,1.05],[450,1.02],[600,.96],[720,.88],[820,.8],[880,.7],[920,.55],[940,.35],[950,.1],[955,.04]],
  [[0,1.02],[200,1.01],[380,.97],[520,.9],[620,.82],[690,.72],[740,.58],[770,.4],[785,.2],[790,.02]],
  [[0,1],[200,1],[400,.95],[550,.88],[650,.8],[730,.7],[790,.58],[830,.42],[860,.25],[880,.1],[900,.05]],
  [[0,.99],[180,.97],[330,.93],[450,.86],[530,.76],[580,.6],[600,.45],[615,.25],[621,.016]],
  [[0,1.05],[300,1.06],[500,1.04],[650,1],[780,.95],[870,.9],[930,.82],[970,.68],[1000,.45],[1015,.25],[1030,.16]],
  [[0,1.01],[200,1],[380,.95],[510,.87],[600,.77],[660,.64],[700,.48],[725,.3],[740,.1]],
  [[0,1],[190,.99],[370,.94],[490,.86],[570,.76],[620,.62],[650,.45],[670,.25],[680,.08]],
  [[0,1.03],[220,1.03],[420,.98],[570,.91],[670,.82],[740,.7],[790,.55],[820,.38],[840,.2],[850,.08]],
  [[0,1.04],[250,1.05],[450,1.02],[620,.96],[740,.89],[830,.8],[890,.68],[930,.52],[960,.35],[980,.2],[990,.06]],
  [[0,.99],[170,.98],[330,.93],[450,.86],[530,.76],[590,.64],[640,.55],[700,.48],[760,.42],[830,.38],[900,.34],[960,.3]],
  [[0,1.02],[210,1.01],[400,.96],[540,.89],[640,.8],[710,.68],[760,.55],[800,.42],[830,.28],[860,.12],[880,.04]],
  [[0,1.06],[200,1.08],[400,1.07],[600,1.05],[750,1.0],[850,.96],[930,.9],[980,.78],[1010,.55],[1025,.3],[1030,.14]],
  [[0,1],[180,.99],[360,.95],[480,.89],[570,.81],[640,.72],[700,.6],[740,.46],[770,.3],[790,.15],[800,.04]],
  [[0,1.01],[200,1],[390,.96],[530,.9],[640,.83],[720,.75],[780,.66],[830,.56],[870,.45],[900,.32],[920,.15],[930,.03]],
  [[0,.97],[150,.96],[300,.92],[420,.85],[500,.76],[550,.65],[580,.52],[600,.35],[608,.15]],
  [[0,1.01],[200,1],[380,.95],[500,.88],[580,.79],[640,.68],[680,.52],[700,.35],[712,.15]],
  [[0,1],[190,.99],[370,.94],[490,.87],[575,.78],[630,.66],[670,.5],[690,.32],[698,.1]],
  [[0,1.02],[210,1.01],[400,.96],[530,.89],[620,.8],[690,.68],[730,.52],[760,.35],[775,.15],[780,.05]],
  [[0,1],[180,.99],[350,.94],[470,.87],[550,.77],[600,.64],[630,.48],[650,.3],[660,.12]],
  [[0,1.03],[230,1.03],[430,.98],[570,.91],[670,.83],[740,.73],[800,.6],[840,.45],[865,.28],[880,.12]],
  [[0,1],[200,.99],[400,.95],[540,.88],[640,.79],[710,.68],[760,.55],[795,.4],[815,.25],[830,.12]]
];

// ---------- drawing ----------
const svg = d3.select("#fig");
const defs = svg.append("defs");
const ink = "#262626";
const fmt = d3.format("~g");

// fixed scatter of dot positions inside one pattern tile (unit square)
const tileDots = [[.08,.17],[.42,.08],[.75,.25],[.33,.3],[.25,.5],[.58,.58],[.92,.67],[.17,.83],[.5,.92],[.83,.92],[.67,.42],[.05,.62]];
function dotPattern(id, size, r, color) {
  const p = defs.append("pattern").attr("id", id)
    .attr("patternUnits", "userSpaceOnUse")
    .attr("width", size).attr("height", size);
  p.selectAll("circle").data(tileDots).join("circle")
    .attr("cx", d => d[0] * size).attr("cy", d => d[1] * size)
    .attr("r", r).attr("fill", color);
}
dotPattern("rHeavy", 8, 0.9, "#f00");
dotPattern("rMid", 11, 0.85, "#f00");
dotPattern("rSparse", 20, 0.85, "#f00");
dotPattern("rThin", 32, 0.85, "#f00");
dotPattern("kDense", 4.5, 0.65, "#000");
dotPattern("kSparse", 15, 0.75, "#000");
const pd = defs.append("pattern").attr("id", "rDense")
  .attr("patternUnits", "userSpaceOnUse").attr("width", 14).attr("height", 6);
pd.append("rect").attr("width", 14).attr("height", 6).attr("fill", "#f00");
pd.append("rect").attr("x", 2).attr("y", 4).attr("width", 6).attr("height", 0.5)
  .attr("fill", "#fff").attr("opacity", 0.3);

function makePanel(id, left, right, bottom, top, xd, yd) {
  const x = d3.scaleLinear().domain(xd).range([left, right]);
  const y = d3.scaleLinear().domain(yd).range([bottom, top]);
  defs.append("clipPath").attr("id", "clip" + id)
    .append("rect").attr("x", left).attr("y", top)
    .attr("width", right - left).attr("height", bottom - top);
  const g = svg.append("g");
  const plot = g.append("g").attr("clip-path", `url(#clip${id})`);
  return {id, x, y, g, plot, left, right, bottom, top};
}

function zone(p, pts, fill) {
  const area = d3.area().x(d => p.x(d[0])).y0(p.y(0)).y1(d => p.y(d[1]))
    .curve(d3.curveMonotoneX);
  p.plot.append("path").attr("d", area(pts)).attr("fill", fill);
}
function poly(p, pts, fill) {
  const line = d3.line().x(d => p.x(d[0])).y(d => p.y(d[1])).curve(d3.curveCardinalClosed);
  p.plot.append("path").attr("d", line(pts)).attr("fill", fill);
}
function lines(p, set, color, width, dash, smooth) {
  const line = d3.line().x(d => p.x(d[0])).y(d => p.y(d[1]))
    .curve(smooth ? d3.curveMonotoneX : d3.curveLinear);
  p.plot.append("g").selectAll("path").data(set).join("path")
    .attr("d", line).attr("fill", "none").attr("stroke", color)
    .attr("stroke-width", width).attr("stroke-linecap", "round")
    .attr("stroke-linejoin", "round")
    .attr("stroke-dasharray", dash || null);
}

function axes(p, xTicks, yTicks, xTitle, yTitle, letter, yTitleX) {
  const style = a => {
    a.attr("font-size", 14.5).attr("font-family", '"Open Sans", "Noto Sans", sans-serif');
    a.select(".domain").attr("stroke", ink).attr("stroke-width", 0.9);
    a.selectAll(".tick line").attr("stroke", ink).attr("stroke-width", 0.9);
    a.selectAll(".tick text").attr("fill", ink);
  };
  p.g.append("g").attr("transform", `translate(0,${p.bottom})`)
    .call(d3.axisBottom(p.x).tickValues(xTicks).tickFormat(fmt)
      .tickSizeInner(-4).tickSizeOuter(0).tickPadding(8))
    .call(style);
  p.g.append("g").attr("transform", `translate(${p.left},0)`)
    .call(d3.axisLeft(p.y).tickValues(yTicks).tickFormat(fmt)
      .tickSizeInner(-4).tickSizeOuter(0).tickPadding(4))
    .call(style);
  p.g.append("text").attr("x", (p.left + p.right) / 2).attr("y", p.bottom + 44)
    .attr("text-anchor", "middle").attr("font-size", 16.5).attr("fill", ink)
    .text(xTitle);
  const cy = (p.top + p.bottom) / 2 + 4;
  p.g.append("text")
    .attr("transform", `translate(${yTitleX},${cy}) rotate(-90)`)
    .attr("text-anchor", "middle").attr("font-size", 16.5).attr("fill", ink)
    .text(yTitle);
  p.g.append("text").attr("x", p.left - 63).attr("y", p.top - 7)
    .attr("font-family", '"Liberation Sans", Arial, sans-serif')
    .attr("font-weight", "bold").attr("font-size", 16).attr("fill", "#000")
    .text(letter);
}

// ---- A ----
const A = makePanel("A", 70, 503, 343, 28, [0, 3528], [0, 1.48]);
zone(A, aSparseTop, "url(#rSparse)");
zone(A, aMidTop, "url(#rMid)");
zone(A, aHeavyTop, "url(#rHeavy)");
zone(A, aDenseTop, "url(#rDense)");
lines(A, aDotLines, "#f00", 1.7, "0 4.5");
lines(A, aRedSegs, "#f00", 1.4);
poly(A, aBlackSparse, "url(#kSparse)");
poly(A, aBlackDense, "url(#kDense)");
lines(A, aBlackThin, "#000", 0.9, null, true);
lines(A, aBlackLines, "#000", 1.2, null, true);
axes(A, aXTicks, aYTicks, "Cycle Number", "Original Capacity (Ah)", "A", 34);

// ---- B ----
const B = makePanel("B", 628.6, 1061, 343, 29.3, [0, 3311], [0, 1.5]);
zone(B, bThinTop, "url(#rThin)");
zone(B, bSparseTop, "url(#rSparse)");
zone(B, bMidTop, "url(#rMid)");
zone(B, bDenseTop, "url(#rDense)");
poly(B, bCloud, "url(#rMid)");
poly(B, bLongBand, "url(#rHeavy)");
poly(B, bRedBand, "url(#rDense)");
lines(B, bDotLines, "#f00", 1.6, "0 4");
lines(B, bRedSegs, "#f00", 1.4);
poly(B, bBlackSparse, "url(#kSparse)");
poly(B, bBlackMass, "url(#kDense)");
lines(B, bBlackBand, "#000", 0.9, null, true);
lines(B, bBlackLines, "#000", 1.2, null, true);
lines(B, bBlackDotted, "#000", 1.2, "0 2.5");
axes(B, bXTicks, bYTicks, "Cycle Number", "Original Capacity (Ah)", "B", 591);

// ---- C ----
const C = makePanel("C", 70.5, 503, 733, 419, [0, 1000], [0, 1.177]);
d3.range(Math.max(cRed.length, cBlack.length)).forEach(i => {
  if (cBlack[i]) lines(C, [cBlack[i]], "#000", 1.2, null, true);
  if (cRed[i]) lines(C, [cRed[i]], "#f00", 1.2, null, true);
});
axes(C, cXTicks, cdYTicks, "Normalized Cumulative Utilization", "Normalized Recovered Capacity", "C", 34);

// ---- D ----
const D = makePanel("D", 628.6, 1060.7, 733, 419, [0, 1200], [0, 1.177]);
d3.range(Math.max(dRed.length, dBlack.length)).forEach(i => {
  if (dBlack[i]) lines(D, [dBlack[i]], "#000", 1.2, null, true);
  if (dRed[i]) lines(D, [dRed[i]], "#f00", 1.2, null, true);
});
axes(D, dXTicks, cdYTicks, "Normalized Cumulative Utilization", "Normalized Recovered Capacity", "D", 591);
</script>
</body>
</html>
